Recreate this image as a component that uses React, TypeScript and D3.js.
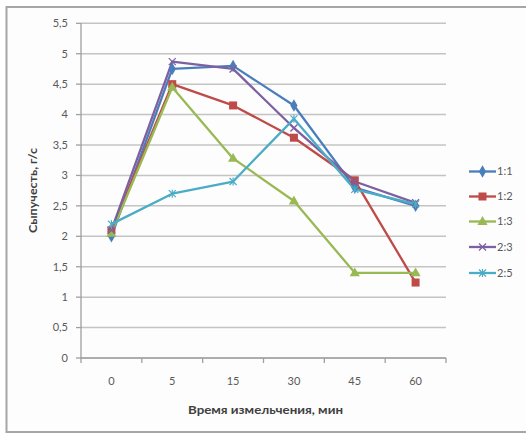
import React from "react";
import * as d3 from "d3";

const categories = ["0", "5", "15", "30", "45", "60"];
const yTicks = [0, 0.5, 1, 1.5, 2, 2.5, 3, 3.5, 4, 4.5, 5, 5.5];

const s11 = [2.0, 4.75, 4.8, 4.15, 2.8, 2.5];
const s12 = [2.1, 4.5, 4.15, 3.62, 2.92, 1.24];
const s13 = [2.05, 4.45, 3.28, 2.58, 1.4, 1.4];
const s23 = [2.1, 4.87, 4.75, 3.78, 2.9, 2.55];
const s25 = [2.2, 2.7, 2.9, 3.93, 2.77, 2.53];

const seriesNames = ["1:1", "1:2", "1:3", "2:3", "2:5"];
const seriesColors = ["#4A7EBB", "#BE4B48", "#98B954", "#7D60A0", "#4BACC6"];
const seriesMarkers = ["diamond", "square", "triangle", "x", "star"];

const W = 526;
const H = 435;
const plot = { left: 81, right: 446, top: 23.3, bottom: 358 };

function Marker({ kind, x, y, color }: { kind: string; x: number; y: number; color: string }) {
  if (kind === "diamond") {
    const p = d3.symbol(d3.symbolDiamond, 45)();
    return <path d={p || ""} transform={`translate(${x},${y})`} fill={color} />;
  }
  if (kind === "square") {
    return <rect x={x - 4} y={y - 4} width={8} height={8} fill={color} />;
  }
  if (kind === "triangle") {
    const p = d3.symbol(d3.symbolTriangle, 45)();
    return <path d={p || ""} transform={`translate(${x},${y + 0.5})`} fill={color} />;
  }
  if (kind === "x") {
    return (
      <g stroke={color} strokeWidth={1.3}>
        <line x1={x - 3.5} y1={y - 3.5} x2={x + 3.5} y2={y + 3.5} />
        <line x1={x - 3.5} y1={y + 3.5} x2={x + 3.5} y2={y - 3.5} />
      </g>
    );
  }
  return (
    <g stroke={color} strokeWidth={1.2}>
      <line x1={x - 3.5} y1={y - 3.5} x2={x + 3.5} y2={y + 3.5} />
      <line x1={x - 3.5} y1={y + 3.5} x2={x + 3.5} y2={y - 3.5} />
      <line x1={x} y1={y - 4} x2={x} y2={y + 4} />
    </g>
  );
}

export default function App() {
  const series = [s11, s12, s13, s23, s25];
  const x = d3.scaleBand<string>().domain(categories).range([plot.left, plot.right]);
  const y = d3.scaleLinear().domain([0, 5.5]).range([plot.bottom, plot.top]);
  const cx = (c: string) => (x(c) as number) + x.bandwidth() / 2;
  const line = d3
    .line<number>()
    .x((_, i) => cx(categories[i]))
    .y((v) => y(v));

  const font = "Lato, 'Open Sans', sans-serif";
  const legendY = [171.5, 196.5, 221.5, 247, 273];
  const boundaries = d3.range(categories.length + 1).map((i) => plot.left + i * x.step());

  return (
    <svg
      width={W}
      height={H}
      style={{ position: "absolute", left: 0, top: 0, background: "#fff" }}
      fontFamily={font}
    >
      <rect x={6.5} y={7} width={W + 4} height={425} fill="#fdfdfd" stroke="#a6a6a6" strokeWidth={2} />

      {/* horizontal gridlines */}
      {yTicks.map((t) => (
        <line
          key={"g" + t}
          x1={plot.left}
          x2={plot.right}
          y1={y(t)}
          y2={y(t)}
          stroke="#c4c4c4"
          strokeWidth={1.5}
        />
      ))}

      {/* axes */}
      <line x1={plot.left} x2={plot.left} y1={plot.top} y2={plot.bottom + 0.5} stroke="#a0a0a0" strokeWidth={1.3} />
      <line x1={plot.left - 0.5} x2={plot.right} y1={plot.bottom} y2={plot.bottom} stroke="#a0a0a0" strokeWidth={1.3} />
      {yTicks.map((t) => (
        <line key={"yt" + t} x1={plot.left - 5} x2={plot.left} y1={y(t)} y2={y(t)} stroke="#a0a0a0" strokeWidth={1.3} />
      ))}
      {boundaries.map((b, i) => (
        <line key={"xt" + i} x1={b} x2={b} y1={plot.bottom} y2={plot.bottom + 5} stroke="#a0a0a0" strokeWidth={1.3} />
      ))}

      {/* tick labels */}
      {yTicks.map((t) => (
        <text
          key={"yl" + t}
          x={68}
          y={y(t)}
          dy="0.35em"
          textAnchor="end"
          fontSize={11}
          fill="#595959"
        >
          {String(t).replace(".", ",")}
        </text>
      ))}
      {categories.map((c) => (
        <text key={"xl" + c} x={cx(c)} y={381} dy="0.35em" textAnchor="middle" fontSize={11} fill="#595959">
          {c}
        </text>
      ))}

      {/* axis titles */}
      <text
        x={265.5}
        y={410}
        dy="0.35em"
        textAnchor="middle"
        fontSize={10.5}
        fontWeight="bold"
        fill="#404040"
        textLength={155}
        lengthAdjust="spacingAndGlyphs"
      >
        Время измельчения, мин
      </text>
      <text
        transform={`translate(33,190.5) rotate(-90)`}
        dy="0.35em"
        textAnchor="middle"
        fontSize={10.5}
        fontWeight="bold"
        fill="#404040"
        textLength={85}
        lengthAdjust="spacingAndGlyphs"
      >
        Сыпучесть, г/с
      </text>

      {/* series lines */}
      {series.map((vals, si) => (
        <path
          key={"l" + si}
          d={line(vals) || ""}
          fill="none"
          stroke={seriesColors[si]}
          strokeWidth={2.3}
          strokeLinejoin="round"
        />
      ))}
      {series.map((vals, si) =>
        vals.map((v, i) => (
          <Marker key={`m${si}-${i}`} kind={seriesMarkers[si]} x={cx(categories[i])} y={y(v)} color={seriesColors[si]} />
        ))
      )}

      {/* legend */}
      {seriesNames.map((n, i) => (
        <g key={"lg" + n}>
          <line x1={469} x2={496} y1={legendY[i]} y2={legendY[i]} stroke={seriesColors[i]} strokeWidth={2.3} />
          <Marker kind={seriesMarkers[i]} x={482.5} y={legendY[i]} color={seriesColors[i]} />
          <text x={497} y={legendY[i]} dy="0.35em" fontSize={11} fill="#595959">
            {n}
          </text>
        </g>
      ))}
    </svg>
  );
}
